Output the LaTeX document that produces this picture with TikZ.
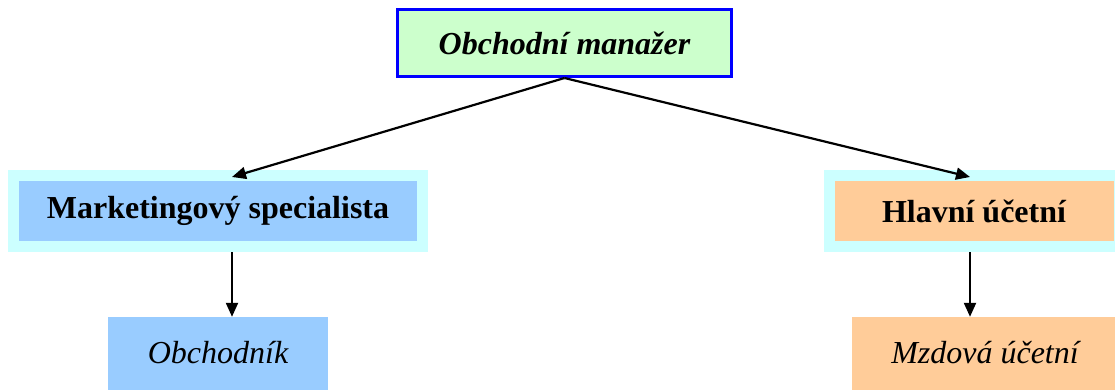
\documentclass[tikz,border=0pt]{standalone}
\usepackage{fontspec}
\setmainfont{Liberation Serif}
\usetikzlibrary{arrows.meta}
\definecolor{zelena}{HTML}{CCFFCC}
\definecolor{modra}{HTML}{99CCFF}
\definecolor{oranz}{HTML}{FFCC99}
\definecolor{tyrkys}{HTML}{CCFFFF}
\tikzstyle{nodoboss} = [rectangle,minimum width=334pt,minimum height=67pt,text centered,draw=blue,line width=3pt,fill=zelena,font=\fontsize{32}{36}\selectfont\bfseries\itshape]
\tikzstyle{nodovedouci} = [rectangle,minimum height=71pt,text centered,draw=tyrkys,line width=11pt,font=\fontsize{32}{36}\selectfont\bfseries]
\tikzstyle{nodopodrizeny} = [rectangle,minimum height=83pt,text centered,font=\fontsize{32}{36}\selectfont\itshape]
\tikzstyle{arrow} = [line width=2.2pt,->,>={Triangle[length=14pt,width=12pt]}]

\begin{document}
\begin{tikzpicture}[x=1pt,y=-1pt]
\useasboundingbox (0,0) rectangle (1115,390);

\node (boss) [nodoboss] at (564.5,43) {Obchodní manažer};

\node (mark) [nodovedouci,fill=modra,minimum width=409pt] at (218,211) {Marketingový specialista};
\node (ucet) [nodovedouci,fill=oranz,minimum width=290pt] at (974,211) {Hlavní účetní};

\node (obch) [nodopodrizeny,fill=modra,minimum width=220pt] at (218,358.5) {\raisebox{13pt}{Obchodník}};
\node (mzda) [nodopodrizeny,fill=oranz,minimum width=266pt] at (985,358.5) {\raisebox{13pt}{Mzdová účetní}};

\coordinate (markTop) at (232,177);
\coordinate (ucetTop) at (970,177);
\coordinate (mx) at (232,0);
\coordinate (ux) at (970,0);

\draw[arrow] (boss.south) -- (markTop);
\draw[arrow] (boss.south) -- (ucetTop);
\draw[arrow] (mark.south -| mx) -- (obch.north -| mx);
\draw[arrow] (ucet.south -| ux) -- (mzda.north -| ux);
\end{tikzpicture}
\end{document}
